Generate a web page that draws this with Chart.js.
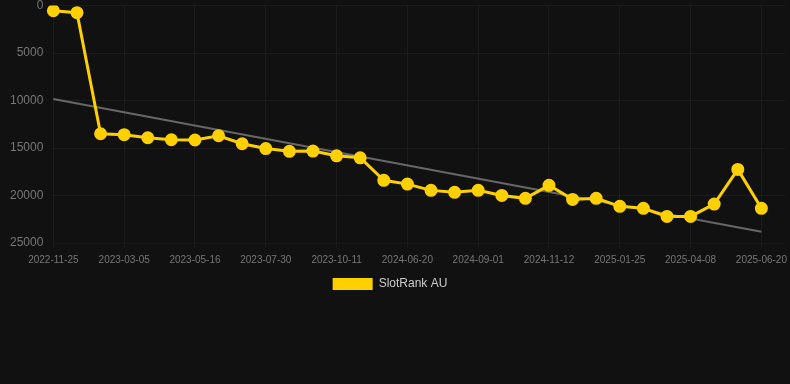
<!DOCTYPE html>
<html>
<head>
<meta charset="utf-8">
<script src="https://cdn.jsdelivr.net/npm/chart.js@4/dist/chart.umd.min.js"></script>
<style>
  html, body { margin: 0; padding: 0; background: #111111; }
  #wrap { width: 790px; height: 300px; position: relative; }
</style>
</head>
<body>
<div id="wrap"><canvas id="rankChart"></canvas></div>
<script>
const rankChart = document.getElementById('rankChart')

const dates = [
  '2022-11-25', '2022-12-29', '2023-02-01', '2023-03-05', '2023-03-29', '2023-04-22',
  '2023-05-16', '2023-06-10', '2023-07-05', '2023-07-30', '2023-08-23', '2023-09-17',
  '2023-10-11', '2023-11-04', '2024-05-27', '2024-06-20', '2024-07-14', '2024-08-07',
  '2024-09-01', '2024-09-25', '2024-10-19', '2024-11-12', '2024-12-07', '2024-12-31',
  '2025-01-25', '2025-02-18', '2025-03-14', '2025-04-08', '2025-05-02', '2025-05-26',
  '2025-06-20', '2025-07-14',
]
const ranks = [
  550, 760, 13500, 13600, 13920, 14130,
  14160, 13710, 14550, 15060, 15350, 15320,
  15820, 16030, 18400, 18800, 19460, 19670,
  19460, 19990, 20300, 18930, 20410, 20300,
  21140, 21350, 22200, 22200, 20900, 17250,
  21350, null,
]
const trend = [9850, ...Array(29).fill(null), 23820, null]
const seriesName = 'SlotRank AU'

Chart.defaults.font.family = '"Liberation Sans", Arial, sans-serif'
Chart.defaults.color = '#777'

// legend sits a little left of centre in the original
const legendNudge = {
  id: 'legendNudge',
  afterLayout(chart) {
    chart.legend.left -= 5
    chart.legend.right -= 5
  },
}

new Chart(rankChart, {
  type: 'line',
  data: {
    labels: dates,
    datasets: [
      {
        label: seriesName,
        data: ranks,
        borderColor: '#FFD000',
        backgroundColor: '#FFD000',
        borderWidth: 3,
        pointRadius: 5,
        pointHoverRadius: 5,
        tension: 0,
      },
      {
        label: 'trend',
        data: trend,
        borderColor: 'rgba(160,160,160,0.6)',
        borderWidth: 2,
        pointRadius: 0,
        spanGaps: true,
      },
    ],
  },
  options: {
    responsive: true,
    maintainAspectRatio: false,
    animation: false,
    layout: { autoPadding: false, padding: 0 },
    plugins: {
      legend: {
        position: 'bottom',
        labels: {
          color: '#ccc',
          font: { size: 12 },
          boxWidth: 40,
          boxHeight: 12,
          filter: (item) => item.datasetIndex === 0,
          generateLabels: function (chart) {
            const items = Chart.defaults.plugins.legend.labels.generateLabels(chart)
            items.forEach((it) => { it.lineWidth = 0 })
            return items
          },
        },
      },
      tooltip: { enabled: false },
    },
    scales: {
      x: {
        grid: { color: 'rgba(255,255,255,0.045)', tickLength: 5 },
        afterFit: (scale) => {
          scale.paddingRight = 5
          scale.height = 25
        },
        ticks: {
          color: '#777',
          font: { size: 10 },
          maxRotation: 0,
          autoSkip: false,
          padding: 6,
          callback: function (value, index) {
            return index % 3 === 0 ? this.getLabelForValue(value) : null
          },
        },
      },
      y: {
        reverse: true,
        min: 0,
        max: 25000,
        grid: { color: 'rgba(255,255,255,0.045)', drawTicks: false },
        border: { display: false },
        afterFit: (scale) => { scale.paddingTop = 5.5 },
        ticks: {
          stepSize: 5000,
          color: '#777',
          font: { size: 12 },
          padding: 10,
          callback: (value) => String(value),
        },
      },
    },
  },
  plugins: [legendNudge],
})
</script>
</body>
</html>
